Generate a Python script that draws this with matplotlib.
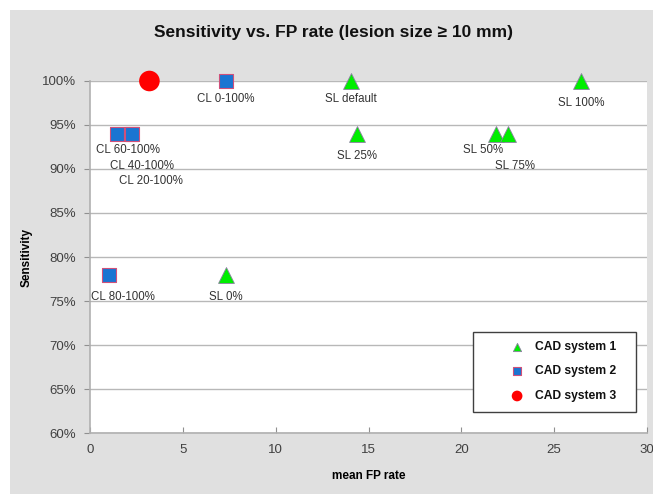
import matplotlib
matplotlib.use('Agg')
import matplotlib.pyplot as plt
from matplotlib.patches import Rectangle
from matplotlib.ticker import FuncFormatter

plt.rcParams['font.family'] = ['Liberation Sans', 'DejaVu Sans']

# CAD system 1 (SL settings)
sl_fp = [7.3, 14.05, 14.4, 21.85, 22.5, 26.45]
sl_sens = [78, 100, 94, 94, 94, 100]
sl_labels = ['SL 0%', 'SL default', 'SL 25%', 'SL 50%', 'SL 75%', 'SL 100%']

# CAD system 2 (CL settings)
cl_fp = [1.0, 7.3, 1.45, 2.2, 2.25]
cl_sens = [78, 100, 94, 94, 94]
cl_labels = ['CL 80-100%', 'CL 0-100%', 'CL 60-100%', 'CL 40-100%', 'CL 20-100%']

# CAD system 3
s3_fp = [3.2]
s3_sens = [100]

# label offsets (points) relative to each marker
sl_off = [(0, -16), (0, -13), (0, -16), (-9, -12), (5, -23), (0, -16)]
cl_off = [(10, -16), (0, -13), (8, -12), (8, -23), (14, -34)]

fig = plt.figure(figsize=(6.53, 4.94), dpi=100)
fig.patches.append(Rectangle((10 / 653, 0), 1, 1 - 10 / 494, transform=fig.transFigure,
                             facecolor='#e0e0e0', edgecolor='none', zorder=-10))
ax = fig.add_axes([90 / 653, 1 - 433 / 494, 557 / 653, (433 - 81) / 494])
ax.set_facecolor('white')

ax.scatter(sl_fp, sl_sens, marker='^', s=130, color='#00ee00', edgecolors='#8a7fa0',
           linewidths=0.6, zorder=3, clip_on=False, label='CAD system 1')
ax.scatter(cl_fp, cl_sens, marker='s', s=115, color='#1a75d2', edgecolors='#d0507a',
           linewidths=0.8, zorder=3, clip_on=False, label='CAD system 2')
ax.scatter(s3_fp, s3_sens, marker='o', s=220, color='#ff0000', edgecolors='none',
           zorder=3, clip_on=False, label='CAD system 3')

for x, y, t, o in zip(sl_fp, sl_sens, sl_labels, sl_off):
    ax.annotate(t, (x, y), xytext=o, textcoords='offset points', ha='center', va='center',
                fontsize=8.3, color='#333333')
for x, y, t, o in zip(cl_fp, cl_sens, cl_labels, cl_off):
    ax.annotate(t, (x, y), xytext=o, textcoords='offset points', ha='center', va='center',
                fontsize=8.3, color='#333333')

ax.set_xlim(0, 30)
ax.set_ylim(60, 100)
ax.set_xticks(range(0, 31, 5))
ax.set_yticks(range(60, 101, 5))
ax.yaxis.set_major_formatter(FuncFormatter(lambda v, p: '%d%%' % v))
ax.grid(axis='y', color='#b8b8b8', linewidth=1)
ax.set_axisbelow(True)
for s in ['top', 'right']:
    ax.spines[s].set_visible(False)
for s in ['left', 'bottom']:
    ax.spines[s].set_color('#b0b0b0')
    ax.spines[s].set_linewidth(1.2)
ax.tick_params(axis='y', direction='out', length=4, color='#909090', labelsize=9.5,
               labelcolor='#404040', pad=6)
ax.tick_params(axis='x', direction='in', length=4, color='#909090', labelsize=9.5,
               labelcolor='#404040', pad=8)

ax.set_xlabel('mean FP rate', fontsize=8.5, fontweight='bold', labelpad=10)
ax.set_ylabel('Sensitivity', fontsize=8.5, fontweight='bold', labelpad=7)
fig.text(333 / 653, 1 - 32 / 494, 'Sensitivity vs. FP rate (lesion size \u2265 10 mm)',
         ha='center', va='center', fontsize=12.5, fontweight='bold', color='#111111')

# legend box drawn separately, entries placed inside it
ax.add_patch(Rectangle((0.6876, 0.0597), 0.2926, 0.2273, transform=ax.transAxes,
                       facecolor='white', edgecolor='#404040', linewidth=1, zorder=4,
                       clip_on=False))
leg = ax.legend(loc='upper left', bbox_to_anchor=(0.7505, 0.262), markerscale=0.52,
                frameon=False, borderpad=0, labelspacing=1.05, handletextpad=0.75,
                handlelength=1.5, borderaxespad=0,
                prop={'size': 8.7, 'weight': 'bold'})
leg.set_zorder(5)
for t in leg.get_texts():
    t.set_color('#111111')

fig.savefig('out.png', dpi=100)
